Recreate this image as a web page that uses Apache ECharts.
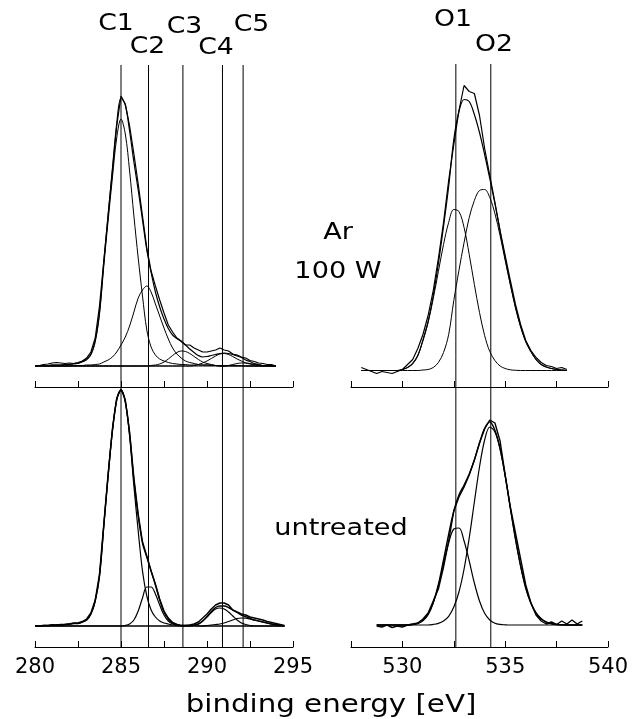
<!DOCTYPE html>
<html lang="en">
<head>
    <meta charset="UTF-8">
    <title>XPS C 1s / O 1s</title>
    <script src="https://cdn.jsdelivr.net/npm/echarts@6/dist/echarts.min.js"></script>
    <style>
        html, body { margin: 0; padding: 0; background: #fff; }
        #container { width: 633px; height: 719px; }
    </style>
</head>
<body>
<div id="container"></div>
<script type="text/javascript">
    // all spectra are sampled every 0.25 eV, intensities in arbitrary units
    var step = 0.25;

    // C 1s, Ar 100 W  (280 ... 294 eV)
    var cTopStart = 280;
    var cTopRaw = [
        0, 0.5, 1.5, 2,   3, 3.5, 3, 2.5,   3, 2.5, 3.5, 5,   8, 14, 28, 60,
        105, 150, 195, 240,   270, 262, 240, 212,   182, 150, 118, 95,   80, 66, 53, 41,
        34, 28, 25, 21,   21, 18, 16, 14,   14, 15, 16, 18,   16, 15, 12, 11,
        9, 8, 5.5, 4.5,   3, 2.5, 1.5, 1.5,   0
    ];
    var cTopC1 = [
        0.5, 0.5, 0.5, 0.5,   1, 1, 1, 1.5,   1.5, 2, 2.5, 4,   6, 11, 24, 52,
        100, 145, 188, 228,   247, 232, 195, 150,   108, 70, 36, 19,   11, 7, 5, 3.5,
        2.5, 2, 1.5, 1.5,   1, 1, 1, 1,   1, 1, 0.5, 0.5,   0.5, 0.5, 0.5, 0.5,
        0.5, 0, 0, 0,   0, 0, 0, 0,   0
    ];
    var cTopC2 = [
        0, 0, 0, 0,   0, 0, 0, 0,   0, 0.5, 0.5, 0.5,   1, 1, 1.5, 2,
        4, 6, 9, 14,   21, 29, 40, 54,   68, 76, 80, 74,   62, 50, 38, 27,
        18, 12, 8, 5,   3.5, 2.5, 1.5, 1,   1, 0.5, 0.5, 0,   0, 0, 0, 0,
        0, 0, 0, 0,   0, 0, 0, 0,   0
    ];
    var cTopC3 = [
        0, 0, 0, 0,   0, 0, 0, 0,   0, 0, 0, 0,   0, 0, 0, 0,
        0, 0, 0, 0,   0, 0, 0, 0,   0, 0, 0, 0.5,   1, 2, 4, 7,
        10.5, 13.5, 15, 14.5,   12.5, 9.5, 6.5, 4,   2.5, 1.5, 0.5, 0,   0, 0, 0, 0,
        0, 0, 0, 0,   0, 0, 0, 0,   0
    ];
    var cTopC4 = [
        0, 0, 0, 0,   0, 0, 0, 0,   0, 0, 0, 0,   0, 0, 0, 0,
        0, 0, 0, 0,   0, 0, 0, 0,   0, 0, 0, 0,   0, 0, 0, 0,
        0, 0, 0, 0,   0, 0.5, 1.5, 3,   5, 7.5, 10, 12,   12.5, 11.5, 9.5, 7,
        5, 3, 2, 1,   0.5, 0, 0, 0,   0
    ];
    var cTopC5 = [
        0, 0, 0, 0,   0, 0, 0, 0,   0, 0, 0, 0,   0, 0, 0, 0,
        0, 0, 0, 0,   0, 0, 0, 0,   0, 0, 0, 0,   0, 0, 0, 0,
        0, 0, 0, 0,   0, 0, 0, 0,   0, 0, 0, 0,   0, 0.5, 1.5, 2.5,
        3, 3, 2.5, 1.5,   1, 0.5, 0.5, 0,   0
    ];

    // C 1s, untreated  (280 ... 294.5 eV)
    var cBotStart = 280;
    var cBotRaw = [
        0, 0, 0.5, 0.5,   1, 1, 1.5, 1.5,   2, 3, 3, 4.5,   7, 13, 26, 52,
        102, 152, 197, 228,   237, 226, 194, 148,   112, 84, 70, 55,   42, 27, 15, 8,
        3.5, 1.5, 0.5, 0.5,   1, 2, 4, 8,   12, 17, 21, 23,   23, 21, 16, 14,
        12, 11, 9, 8,   7, 6, 4.5, 3.5,   2.5, 1.5, 0.5
    ];
    var cBotC1 = [
        0, 0, 0.5, 0.5,   1, 1, 1, 1.5,   2, 2.5, 2.5, 4,   6, 12, 25, 50,
        100, 150, 195, 226,   236, 224, 190, 140,   95, 55, 30, 16,   9, 5, 3, 2,
        1, 1, 0.5, 0.5,   0.5, 0.5, 0, 0,   0, 0, 0, 0,   0, 0, 0, 0,
        0, 0, 0, 0,   0, 0, 0, 0,   0, 0, 0
    ];
    var cBotC2 = [
        0, 0, 0, 0,   0, 0, 0, 0,   0, 0, 0, 0,   0, 0, 0, 0,
        0, 0, 0, 0,   0, 0.5, 2, 6,   15, 28, 39, 39,   32, 21, 11, 5,
        2, 0.5, 0, 0,   0, 0, 0, 0,   0, 0, 0, 0,   0, 0, 0, 0,
        0, 0, 0, 0,   0, 0, 0, 0,   0, 0, 0
    ];
    var cBotC4 = [
        0, 0, 0, 0,   0, 0, 0, 0,   0, 0, 0, 0,   0, 0, 0, 0,
        0, 0, 0, 0,   0, 0, 0, 0,   0, 0, 0, 0,   0, 0, 0, 0,
        0, 0, 0, 0,   0, 0.5, 2, 5,   9, 13.5, 17, 18,   17, 14, 10, 6,
        3, 1.5, 0.5, 0,   0, 0, 0, 0,   0, 0, 0
    ];
    var cBotC5 = [
        0, 0, 0, 0,   0, 0, 0, 0,   0, 0, 0, 0,   0, 0, 0, 0,
        0, 0, 0, 0,   0, 0, 0, 0,   0, 0, 0, 0,   0, 0, 0, 0,
        0, 0, 0, 0,   0, 0, 0, 0,   0.5, 1, 1.5, 2,   3, 4.5, 6, 7.5,
        8, 7.8, 7, 6,   5, 4, 3, 2,   1.2, 0.6, 0.2
    ];

    // O 1s, Ar 100 W  (528 ... 538 eV)
    var oTopStart = 528;
    var oTopRaw = [
        3, 1, -1, -3,   -1, -2, -3, -1,   1, 6, 11, 22,   36, 55, 80, 112,
        148, 190, 226, 260,   285, 279, 277, 255,   222, 195, 168, 140,   115, 90, 66, 46,
        30, 20, 13, 8,   5, 4, 2, 3,   1
    ];
    var oTopO1 = [
        0, 0, 0, 0,   0, 0, 0, 0,   1, 3, 7, 15,   30, 48, 72, 99,
        126, 148, 161, 159,   143, 116, 86, 58,   35, 19, 10, 4.5,   2, 0.7, 0.2, 0,
        0, 0, 0, 0,   0, 0, 0, 0,   0
    ];
    var oTopO2 = [
        0, 0, 0, 0,   0, 0, 0, 0,   0, 0, 0, 0,   0.5, 1, 3, 8,
        18, 36, 70, 100,   128, 153, 170, 180,   181, 173, 157, 135,   110, 86, 63, 44,
        29, 19, 11, 6,   3.5, 2, 1, 0.5,   0
    ];

    // O 1s, untreated  (528.75 ... 538.75 eV)
    var oBotStart = 528.75;
    var oBotRaw = [
        -1,   -2, 0, -2.5, -1,   -2, 0, 1, 2,   6, 12, 24, 36,   58, 84, 114, 128,
        138, 150, 165, 182,   196, 205, 202, 184,   150, 118, 92, 66,   40, 22, 10, 4,
        1, 3, 0.5, 4,   1, 5, 1, 4
    ];
    var oBotO1 = [
        0,   0, 0, 0, 0,   0, 0, 0.5, 1.6,   4.5, 10.6, 22, 39,   61, 82, 96, 97,
        84, 64, 42, 24,   11.7, 5, 1.8, 0.6,   0.2, 0, 0, 0,   0, 0, 0, 0,
        0, 0, 0, 0,   0, 0, 0, 0
    ];
    var oBotO2 = [
        0,   0, 0, 0, 0,   0, 0, 0, 0,   0, 0, 0.6, 1.6,   4, 8.7, 18, 33,
        56, 87, 123, 158,   185, 198, 193, 176,   149, 117, 86, 59,   37, 22, 12, 6.2,
        2.9, 1.3, 0.5, 0.2,   0, 0, 0, 0
    ];

    // component positions (eV) and their names
    var cLines = [285.0, 286.6, 288.6, 290.9, 292.1];
    var cNames = ['C1', 'C2', 'C3', 'C4', 'C5'];
    var oLines = [532.6, 534.3];
    var oNames = ['O1', 'O2'];

    var FONT = 'DejaVu Sans';

    function pairs(start, values) {
        return values.map(function (v, i) { return [start + i * step, v]; });
    }

    // fit envelope = sum of the fitted components
    function sumOf(list) {
        return list[0].map(function (_, i) {
            var s = 0;
            list.forEach(function (a) { s += a[i]; });
            return s;
        });
    }

    function curve(idx, start, values, width, smooth) {
        return {
            type: 'line', xAxisIndex: idx, yAxisIndex: idx,
            data: pairs(start, values), symbol: 'none', silent: true,
            smooth: smooth ? 0.35 : false,
            lineStyle: { color: '#000', width: width }
        };
    }

    function xAxis(idx, min, max, labels, show) {
        return {
            type: 'value', gridIndex: idx, min: min, max: max, interval: 2.5, show: show,
            axisLine: { onZero: false, lineStyle: { color: '#000', width: 1 } },
            axisTick: { inside: true, length: 6, lineStyle: { color: '#000', width: 1 } },
            splitLine: { show: false },
            axisLabel: {
                show: labels, margin: 10, color: '#000', fontSize: 21, fontFamily: FONT,
                showMinLabel: true, showMaxLabel: true,
                formatter: function (v) { return v % 5 === 0 ? String(v) : ''; }
            }
        };
    }

    function yAxis(idx, min, max) {
        return { type: 'value', gridIndex: idx, min: min, max: max, show: false, splitLine: { show: false } };
    }

    var series = [];
    // C 1s Ar
    [cTopC1, cTopC2, cTopC3, cTopC4, cTopC5].forEach(function (c) { series.push(curve(0, cTopStart, c, 1, true)); });
    series.push(curve(0, cTopStart, sumOf([cTopC1, cTopC2, cTopC3, cTopC4, cTopC5]), 1.2, true));
    series.push(curve(0, cTopStart, cTopRaw, 1.2, false));
    // C 1s untreated
    [cBotC1, cBotC2, cBotC4, cBotC5].forEach(function (c) { series.push(curve(1, cBotStart, c, 1.2, true)); });
    series.push(curve(1, cBotStart, sumOf([cBotC1, cBotC2, cBotC4, cBotC5]), 1.4, true));
    series.push(curve(1, cBotStart, cBotRaw, 1.4, false));
    // O 1s Ar
    [oTopO1, oTopO2].forEach(function (c) { series.push(curve(2, oTopStart, c, 1, true)); });
    series.push(curve(2, oTopStart, sumOf([oTopO1, oTopO2]), 1.2, true));
    series.push(curve(2, oTopStart, oTopRaw, 1.2, false));
    // O 1s untreated
    [oBotO1, oBotO2].forEach(function (c) { series.push(curve(3, oBotStart, c, 1.2, true)); });
    series.push(curve(3, oBotStart, sumOf([oBotO1, oBotO2]), 1.4, true));
    series.push(curve(3, oBotStart, oBotRaw, 1.4, false));

    // vertical component lines through both panels
    function vline(idx, x) {
        return {
            type: 'line', xAxisIndex: idx, yAxisIndex: idx, data: [[x, 0], [x, 1]],
            symbol: 'none', silent: true, lineStyle: { color: '#000', width: 1 }
        };
    }
    cLines.forEach(function (x) { series.push(vline(4, x)); });
    oLines.forEach(function (x) { series.push(vline(5, x)); });

    function label(text, x, y, size, sx) {
        return {
            type: 'text', x: x, y: y, scaleX: sx, silent: true,
            style: { text: text, fill: '#000', fontSize: size, fontFamily: FONT, align: 'center', verticalAlign: 'middle' }
        };
    }

    var cLabelPos = [[116, 24], [147.5, 47], [184.5, 27], [216, 48.5], [251.5, 25.5]];
    var oLabelPos = [[453, 20.5], [494, 45.5]];
    var texts = [];
    cNames.forEach(function (n, i) { texts.push(label(n, cLabelPos[i][0], cLabelPos[i][1], 23, 1.16)); });
    oNames.forEach(function (n, i) { texts.push(label(n, oLabelPos[i][0], oLabelPos[i][1], 23, 1.16)); });
    texts.push(label('Ar', 338, 233, 23, 1.18));
    texts.push(label('100 W', 338, 272.5, 23, 1.18));
    texts.push(label('untreated', 341, 529, 23, 1.18));
    texts.push(label('binding energy [eV]', 331, 706, 24, 1.22));

    var myChart = echarts.init(document.getElementById('container'));
    var option = {
        animation: false,
        backgroundColor: '#fff',
        grid: [
            { left: 35, top: 60, width: 258, height: 327 },
            { left: 35, top: 386, width: 258, height: 261 },
            { left: 351, top: 60, width: 257, height: 327 },
            { left: 351, top: 386, width: 257, height: 261 },
            { left: 35, top: 65, width: 258, height: 582 },
            { left: 351, top: 64, width: 257, height: 583 }
        ],
        xAxis: [
            xAxis(0, 280, 295, false, true),
            xAxis(1, 280, 295, true, true),
            xAxis(2, 527.5, 540, false, true),
            xAxis(3, 527.5, 540, true, true),
            xAxis(4, 280, 295, false, false),
            xAxis(5, 527.5, 540, false, false)
        ],
        yAxis: [
            yAxis(0, -21, 306),
            yAxis(1, -21, 240),
            yAxis(2, -16.5, 310.5),
            yAxis(3, -22, 239),
            yAxis(4, 0, 1),
            yAxis(5, 0, 1)
        ],
        series: series,
        graphic: { elements: texts }
    };
    myChart.setOption(option);
</script>
</body>
</html>
